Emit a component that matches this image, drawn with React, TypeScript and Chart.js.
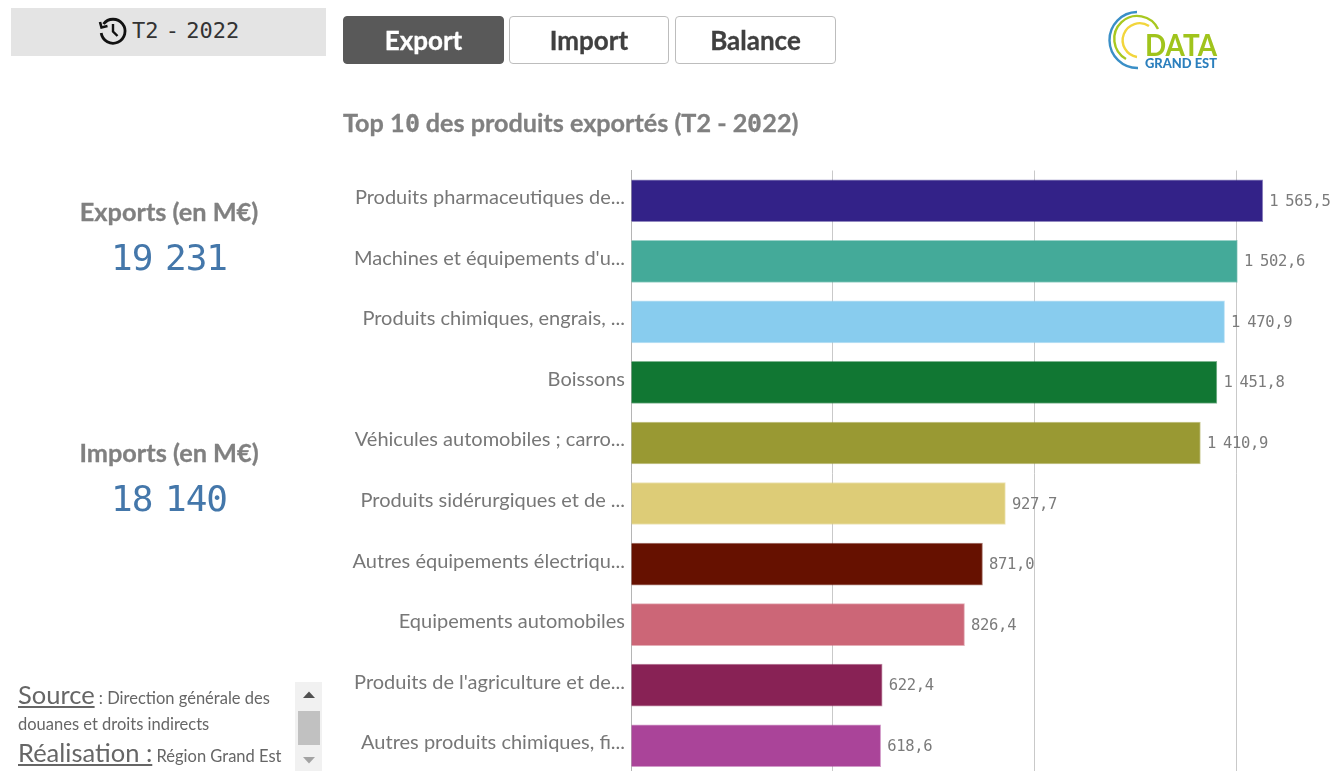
import React, { useEffect, useRef } from "react";
import { Chart, registerables } from "chart.js";

Chart.register(...registerables);

const categories = [
  "Produits pharmaceutiques de...",
  "Machines et équipements d'u...",
  "Produits chimiques, engrais, ...",
  "Boissons",
  "Véhicules automobiles ; carro...",
  "Produits sidérurgiques et de ...",
  "Autres équipements électriqu...",
  "Equipements automobiles",
  "Produits de l'agriculture et de...",
  "Autres produits chimiques, fi...",
];
const exportValues = [1565.5, 1502.6, 1470.9, 1451.8, 1410.9, 927.7, 871.0, 826.4, 622.4, 618.6];
const barColors = ["#332288", "#44AA99", "#88CCEE", "#117733", "#999933", "#DDCC77", "#661100", "#CC6677", "#882255", "#AA4499"];
const axisTicks = [0, 500, 1000, 1500];

const formatValue = (v: number) => {
  const [i, d] = v.toFixed(1).split(".");
  return i.replace(/\B(?=(\d{3})+$)/g, " ") + "," + d;
};

const valueLabels = {
  id: "valueLabels",
  afterDatasetsDraw(chart: any) {
    const ctx = chart.ctx;
    const meta = chart.getDatasetMeta(0);
    ctx.save();
    ctx.font = "15.5px 'DejaVu Sans Mono'";
    ctx.letterSpacing = "-0.3px";
    ctx.wordSpacing = "-2px";
    ctx.fillStyle = "#7b7b7b";
    ctx.textAlign = "left";
    ctx.textBaseline = "middle";
    meta.data.forEach((bar: any, i: number) => {
      ctx.fillText(formatValue(exportValues[i]), bar.x + 6.5, bar.y + 1);
    });
    ctx.restore();
  },
};

const txt = (left: number, top: number, style: React.CSSProperties = {}): React.CSSProperties => ({
  position: "absolute",
  left,
  top,
  whiteSpace: "nowrap",
  lineHeight: 1,
  ...style,
});

const btn = (left: number, width: number, active: boolean): React.CSSProperties => ({
  position: "absolute",
  left,
  top: 16,
  width,
  height: 48,
  boxSizing: "border-box",
  borderRadius: 4,
  border: active ? "1px solid #595959" : "1px solid #bdbdbd",
  background: active ? "#595959" : "#fff",
  color: active ? "#fff" : "#404040",
  fontFamily: "Lato",
  fontWeight: 700,
  fontSize: 26,
  WebkitTextStroke: "0.3px",
  display: "flex",
  alignItems: "center",
  justifyContent: "center",
});

const SANS = "'Zero Mono',Lato";
const MONO_BIG: React.CSSProperties = {
  fontFamily: "'DejaVu Sans Mono'",
  fontSize: 36,
  letterSpacing: -1,
  wordSpacing: -8,
  color: "#4477aa",
  width: 316,
  textAlign: "center",
};
const HEAD: React.CSSProperties = { fontFamily: "Lato", fontWeight: 700, fontSize: 25.3, color: "#808080", WebkitTextStroke: "0.3px", width: 316, textAlign: "center" };
const SMALL: React.CSSProperties = { fontFamily: "Lato", fontSize: 16.5, color: "#666" };

export default function App() {
  const ref = useRef<HTMLCanvasElement | null>(null);
  useEffect(() => {
    const chart = new Chart(ref.current!, {
      type: "bar",
      data: {
        labels: categories,
        datasets: [
          {
            data: exportValues,
            backgroundColor: barColors,
            borderColor: barColors.map((c) => c + "88"),
            borderWidth: 1,
            barThickness: 42,
          },
        ],
      },
      options: {
        indexAxis: "y",
        animation: false,
        responsive: false,
        layout: { padding: { top: 170.5, left: 0, right: 0, bottom: 0 } },
        plugins: { legend: { display: false }, tooltip: { enabled: false }, title: { display: false } },
        scales: {
          x: {
            min: 0,
            max: 1742,
            afterFit: (s: any) => {
              s.height = 0;
            },
            afterBuildTicks: (s: any) => {
              s.ticks = axisTicks.map((value) => ({ value }));
            },
            grid: { color: "#c9c9c9", lineWidth: 1, drawTicks: false },
            border: { display: false },
            ticks: { display: false },
          },
          y: {
            afterFit: (s: any) => {
              s.width = 631;
            },
            grid: { display: false, drawTicks: false },
            border: { display: true, color: "#b5b5b5" },
            ticks: {
              autoSkip: false,
              padding: 6,
              color: "#777",
              font: { family: "Lato", size: 20, lineHeight: "6px" as any },
              callback: (_v: any, i: number) => [categories[i], ""],
            },
          },
        },
      },
      plugins: [valueLabels],
    });
    return () => chart.destroy();
  }, []);

  return (
    <div style={{ position: "fixed", left: 0, top: 0, width: 1334, height: 771, overflow: "hidden", background: "#fff", filter: "blur(0.4px)" }}>
      <style>{`@font-face{font-family:'Zero Mono';src:local('DejaVu Sans Mono Bold'),local('DejaVu Sans Mono');unicode-range:U+30;font-weight:700}`}</style>
      <canvas ref={ref} width={1334} height={788} style={{ position: "absolute", left: 0, top: 0, width: 1334, height: 788 }} />

      <div style={{ position: "absolute", left: 11, top: 8, width: 315, height: 48, background: "#e4e4e4" }} />
      <svg style={{ position: "absolute", left: 97, top: 15 }} width={32} height={32} viewBox="0 0 32 32" fill="none" stroke="#111" strokeWidth={2.8}>
        <path d="M6.5 9 A12 12 0 1 1 4.2 18" />
        <path d="M3 7 L4.5 12.5 L10.5 11" strokeWidth={2.6} />
        <path d="M16 9 V16.5 L20.5 21" strokeWidth={2.4} />
      </svg>
      <div style={txt(132, 20, { fontFamily: "'DejaVu Sans Mono'", fontSize: 22, wordSpacing: -6, color: "#333" })}>T2 - 2022</div>

      <div style={btn(343, 161, true)}>Export</div>
      <div style={btn(509, 160, false)}>Import</div>
      <div style={btn(675, 161, false)}>Balance</div>

      <svg style={{ position: "absolute", left: 1102, top: 5 }} width={125} height={70} viewBox="0 0 125 70" fill="none">
        <path d="M35 7 A28 28 0 0 0 36 63" stroke="#3a8fc7" strokeWidth={2.4} />
        <path d="M56 24 A23 23 0 1 0 24 54" stroke="#a8c820" strokeWidth={2.4} />
        <path d="M47 21 A17 17 0 1 0 35 52" stroke="#f2d53c" strokeWidth={2.4} />
        <text x={43} y={51} fontFamily="Lato" fontWeight={700} fontSize={30} fill="#a0c41c" textLength={72} lengthAdjust="spacingAndGlyphs">DATA</text>
        <text x={43} y={63} fontFamily="Lato" fontWeight={900} fontSize={13} fill="#2b7fbd" textLength={72} lengthAdjust="spacingAndGlyphs">GRAND EST</text>
      </svg>

      <div style={txt(343, 110, { fontFamily: SANS, fontWeight: 700, fontSize: 25.2, WebkitTextStroke: "0.3px", color: "#808080" })}>Top 10 des produits exportés (T2 - 2022)</div>

      <div style={txt(11, 199, HEAD)}>Exports (en M€)</div>
      <div style={txt(11, 240, MONO_BIG)}>19 231</div>
      <div style={txt(11, 440, HEAD)}>Imports (en M€)</div>
      <div style={txt(11, 481, MONO_BIG)}>18 140</div>

      <div style={txt(18, 682, SMALL)}>
        <span style={{ fontSize: 25.5, textDecoration: "underline" }}>Source</span> : Direction générale des
      </div>
      <div style={txt(18, 716, SMALL)}>douanes et droits indirects</div>
      <div style={txt(18, 740, SMALL)}>
        <span style={{ fontSize: 25.5, textDecoration: "underline" }}>Réalisation :</span> Région Grand Est
      </div>

      <div style={{ position: "absolute", left: 295, top: 682, width: 27, height: 89, background: "#f1f1f1" }} />
      <div style={{ position: "absolute", left: 298, top: 711, width: 22, height: 34, background: "#c1c1c1" }} />
      <svg style={{ position: "absolute", left: 295, top: 682 }} width={27} height={89}>
        <path d="M8 16 L14 9.5 L20 16 Z" fill="#505050" />
        <path d="M8 75 L14 81.5 L20 75 Z" fill="#a3a3a3" />
      </svg>
    </div>
  );
}
